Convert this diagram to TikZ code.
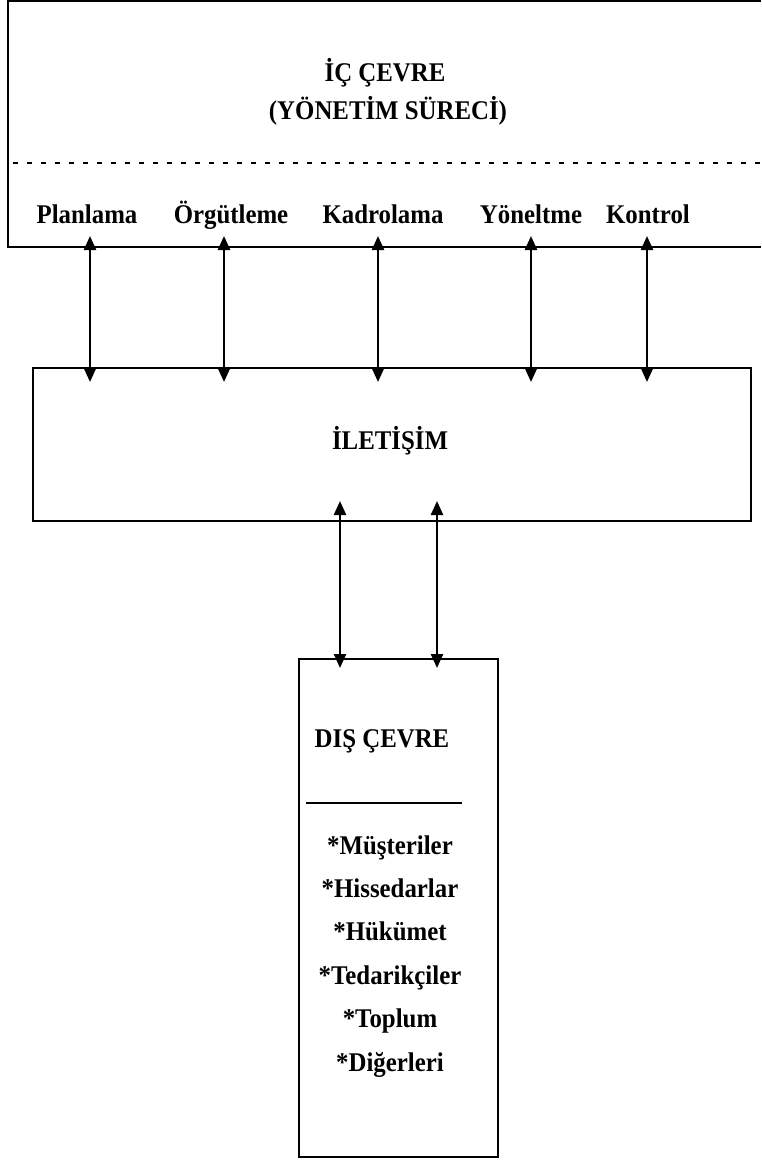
\documentclass[tikz,border=0pt]{standalone}
\usepackage{fontspec}
\setmainfont{Liberation Serif}
\newfontfamily\boldnarrow[FakeStretch=0.92]{Liberation Serif}
\usetikzlibrary{arrows.meta}

\begin{document}
\begin{tikzpicture}[x=1pt, y=-1pt, line width=2pt,
    lbl/.style={font=\boldnarrow\fontsize{27}{32}\selectfont\bfseries,
      inner sep=0pt, anchor=base},
    link/.style={line width=2.4pt,
      {Triangle[width=12pt,length=14pt]}-{Triangle[width=12pt,length=14pt]}}]
    \useasboundingbox (0,0) rectangle (761,1168);

    % Inner environment, open to the right
    \draw (761,1) -- (8,1) -- (8,247) -- (761,247);
    \draw[line width=2.6pt, dash pattern=on 5pt off 9pt] (13,163) -- (761,163);
    \node[lbl] (ic) at (385,81) {İÇ ÇEVRE};
    \node[lbl] (surec) at (388,119) {(YÖNETİM SÜRECİ)};

    % Management functions
    \node[lbl] (planlama) at (87,223) {Planlama};
    \node[lbl] (orgutleme) at (231,223) {Örgütleme};
    \node[lbl] (kadrolama) at (383,223) {Kadrolama};
    \node[lbl] (yoneltme) at (531,223) {Yöneltme};
    \node[lbl] (kontrol) at (648,223) {Kontrol};

    % Communication
    \node[draw, minimum width=718pt, minimum height=153pt]
      (iletisim) at (392,444.5) {};
    \node[lbl] (iletisimyazi) at (390,449) {İLETİŞİM};

    % External environment
    \node[draw, minimum width=199pt, minimum height=498pt]
      (dis) at (398.5,908) {};
    \node[lbl] (disbaslik) at (382,747) {DIŞ ÇEVRE};
    \draw[line width=1.4pt] (306,803) -- (462,803);
    \foreach \t [count=\i from 0] in {*Müşteriler,*Hissedarlar,*Hükümet,
        *Tedarikçiler,*Toplum,*Diğerleri}
      \node[lbl] (item\i) at (390,{854+43.4*\i}) {\t};

    % Arrows between functions and communication
    \foreach \x/\n in {90/pl,224/or,378/ka,531/yo,647/ko} {
      \coordinate (\n) at (\x,236);
      \draw[link] (\n) -- ([yshift=-15pt]\n |- iletisim.north);
    }

    % Arrows between communication and external environment
    \foreach \x/\n in {340/da,437/db} {
      \coordinate (\n) at (\x,501);
      \draw[link] (\n) -- ([yshift=-10pt]\n |- dis.north);
    }
\end{tikzpicture}
\end{document}
